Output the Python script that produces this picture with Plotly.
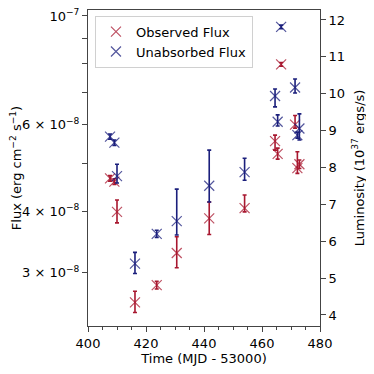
import plotly.graph_objects as go

# observation times (MJD - 53000)
mjd = [407.6, 409.1, 410.0, 416.2, 423.7, 430.6, 441.8, 454.0,
       464.5, 465.4, 466.6, 471.4, 472.2, 472.9]

# observed flux (erg cm^-2 s^-1) with errors
obs_flux = [4.67e-8, 4.60e-8, 3.99e-8, 2.61e-8, 2.83e-8, 3.29e-8, 3.87e-8, 4.06e-8,
            5.56e-8, 5.24e-8, 7.97e-8, 6.01e-8, 4.90e-8, 4.99e-8]
obs_err_hi = [0.06e-8, 0.06e-8, 0.23e-8, 0.14e-8, 0.05e-8, 0.26e-8, 0.31e-8, 0.26e-8,
              0.16e-8, 0.14e-8, 0.07e-8, 0.26e-8, 0.39e-8, 0.10e-8]
obs_err_lo = [0.06e-8, 0.06e-8, 0.20e-8, 0.12e-8, 0.05e-8, 0.22e-8, 0.28e-8, 0.07e-8,
              0.23e-8, 0.13e-8, 0.07e-8, 0.10e-8, 0.12e-8, 0.10e-8]

# unabsorbed flux with errors
unabs_flux = [5.68e-8, 5.52e-8, 4.72e-8, 3.13e-8, 3.60e-8, 3.82e-8, 4.51e-8, 4.81e-8,
              6.87e-8, 6.09e-8, 9.50e-8, 7.15e-8, 5.72e-8, 5.90e-8]
unabs_err_hi = [0.07e-8, 0.07e-8, 0.27e-8, 0.17e-8, 0.06e-8, 0.62e-8, 0.82e-8, 0.32e-8,
                0.23e-8, 0.20e-8, 0.08e-8, 0.29e-8, 0.08e-8, 0.42e-8]
unabs_err_lo = [0.07e-8, 0.07e-8, 0.15e-8, 0.14e-8, 0.06e-8, 0.24e-8, 0.33e-8, 0.18e-8,
                0.34e-8, 0.12e-8, 0.08e-8, 0.18e-8, 0.08e-8, 0.31e-8]

flux_ticks = [3e-8, 4e-8, 5e-8, 6e-8, 7e-8, 8e-8, 9e-8, 1e-7]
flux_labels = ["3 × 10<sup>−8</sup>", "4 × 10<sup>−8</sup>", "", "6 × 10<sup>−8</sup>",
               "", "", "", "10<sup>−7</sup>"]
lum_ticks = [4, 5, 6, 7, 8, 9, 10, 11, 12]

red = "#a8172f"
blue = "#1b1f7c"

fig = go.Figure()
fig.add_trace(go.Scatter(
    x=mjd, y=obs_flux, mode="markers", name="Observed Flux",
    marker=dict(symbol="x-thin", size=10, line=dict(color="rgba(168,23,47,0.75)", width=1.2),
                color=red),
    error_y=dict(type="data", symmetric=False, array=obs_err_hi, arrayminus=obs_err_lo,
                 color=red, thickness=1.6, width=2),
))
fig.add_trace(go.Scatter(
    x=mjd, y=unabs_flux, mode="markers", name="Unabsorbed Flux",
    marker=dict(symbol="x-thin", size=10, line=dict(color="rgba(27,31,124,0.75)", width=1.2),
                color=blue),
    error_y=dict(type="data", symmetric=False, array=unabs_err_hi, arrayminus=unabs_err_lo,
                 color=blue, thickness=1.6, width=2),
))
# dummy trace so the luminosity axis is drawn
fig.add_trace(go.Scatter(x=[None], y=[None], yaxis="y2", showlegend=False, hoverinfo="skip"))

axis_common = dict(showline=True, linecolor="#444", linewidth=1, ticks="outside",
                   tickcolor="#444", ticklen=5, showgrid=False, zeroline=False,
                   automargin=False, ticklabeloverflow="allow",
                   tickfont=dict(size=13, color="black"))

# the page body adds an 8px offset, so the margins are shifted to compensate
fig.update_layout(
    width=374, height=374,
    margin=dict(l=80, r=62, t=2, b=56),
    paper_bgcolor="white", plot_bgcolor="white",
    font=dict(family="DejaVu Sans", size=13, color="black"),
    xaxis=dict(range=[400, 480], tickvals=[400, 420, 440, 460, 480], mirror=True,
               minor=dict(dtick=5, ticks="outside", ticklen=3, tickcolor="#444"),
               title=dict(text="Time (MJD - 53000)", standoff=4, font=dict(size=13)),
               **axis_common),
    yaxis=dict(type="log", range=[-7.6314, -6.9878], tickvals=flux_ticks, ticktext=flux_labels,
               title=dict(text="Flux (erg cm<sup>−2</sup> s<sup>−1</sup>)", standoff=8,
                          font=dict(size=13)),
               **axis_common),
    yaxis2=dict(overlaying="y", side="right", range=[3.70, 12.27], tickvals=lum_ticks,
                title=dict(text="Luminosity (10<sup>37</sup> ergs/s)", standoff=10,
                           font=dict(size=13)),
                **axis_common),
    legend=dict(x=0.03, y=0.982, xanchor="left", yanchor="top", bgcolor="rgba(255,255,255,0.8)",
                bordercolor="#d0d0d0", borderwidth=1, font=dict(size=13),
                tracegroupgap=0, itemwidth=30),
    showlegend=True,
)

fig.write_html("out.html")
